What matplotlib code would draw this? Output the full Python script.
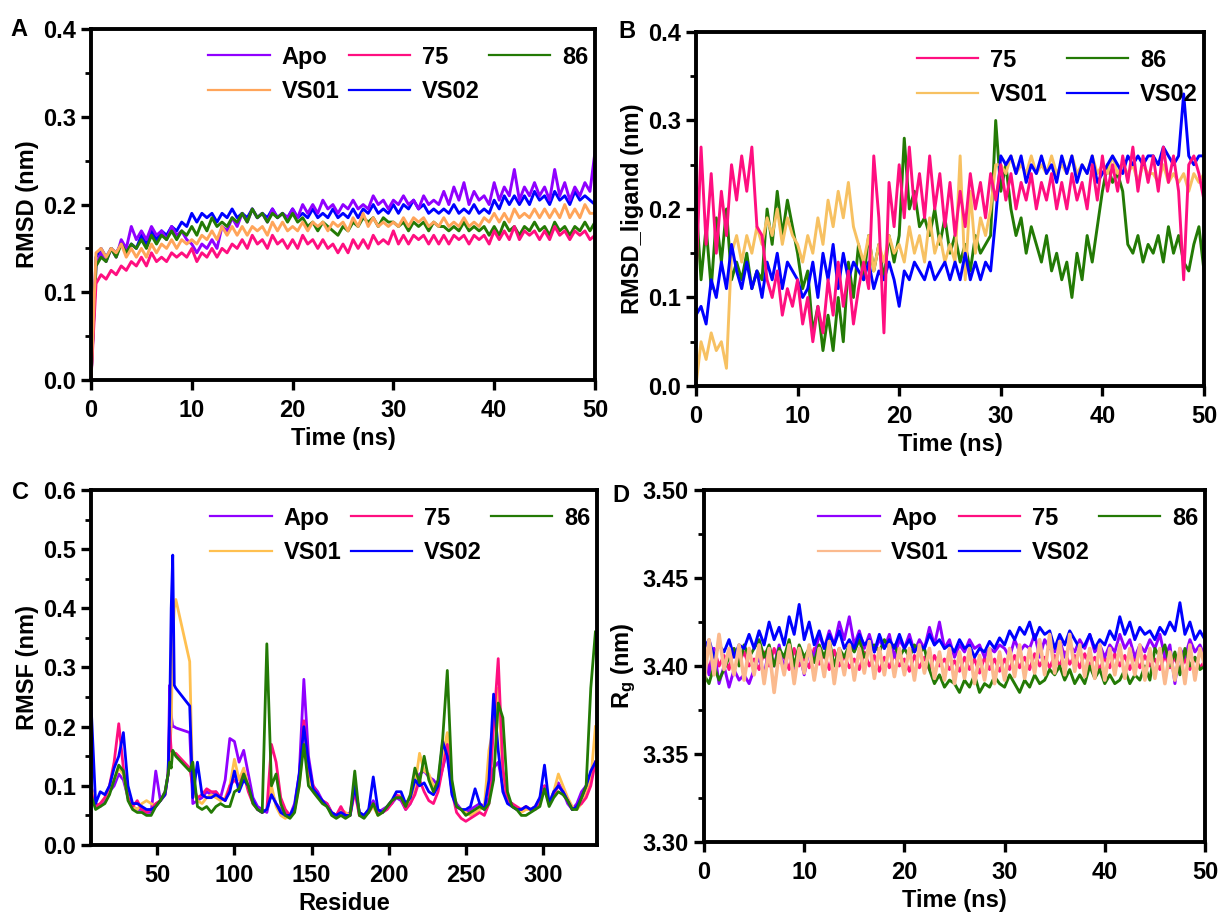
import numpy as np
import matplotlib
matplotlib.use("Agg")
import matplotlib.pyplot as plt
from matplotlib.ticker import MultipleLocator, FormatStrFormatter

plt.rcParams['font.family'] = ['Liberation Sans', 'DejaVu Sans']
plt.rcParams['font.weight'] = 'bold'
plt.rcParams['axes.labelweight'] = 'bold'
plt.rcParams['mathtext.fontset'] = 'custom'
plt.rcParams['mathtext.rm'] = 'Liberation Sans:bold'
plt.rcParams['mathtext.default'] = 'rm'

# kolory serii
c_apo = "#9000FF"
c_75 = "#FF0F80"
c_86 = "#237A05"
c_vs02 = "#0000FF"

# ---------------- A: RMSD bialka (co 0.5 ns) ----------------
rmsd_apo = [0.0, 0.13, 0.145, 0.135, 0.15, 0.14, 0.16, 0.15, 0.175, 0.16,
            0.17, 0.16, 0.175, 0.165, 0.17, 0.16, 0.175, 0.165, 0.17, 0.16,
            0.155, 0.145, 0.155, 0.15, 0.16, 0.15, 0.175, 0.17, 0.185, 0.175,
            0.19, 0.18, 0.195, 0.185, 0.19, 0.18, 0.195, 0.185, 0.19, 0.185,
            0.195, 0.185, 0.2, 0.19, 0.2, 0.19, 0.205, 0.195, 0.2, 0.19,
            0.2, 0.195, 0.205, 0.195, 0.2, 0.195, 0.21, 0.2, 0.205, 0.195,
            0.205, 0.2, 0.21, 0.2, 0.205, 0.195, 0.21, 0.2, 0.205, 0.2,
            0.215, 0.2, 0.22, 0.205, 0.225, 0.2, 0.215, 0.205, 0.21, 0.2,
            0.225, 0.205, 0.22, 0.21, 0.24, 0.205, 0.22, 0.21, 0.225, 0.21,
            0.22, 0.205, 0.24, 0.21, 0.225, 0.205, 0.22, 0.21, 0.225, 0.215,
            0.26]
rmsd_75 = [0.0, 0.11, 0.12, 0.115, 0.125, 0.12, 0.13, 0.125, 0.135, 0.13,
           0.14, 0.13, 0.145, 0.135, 0.14, 0.135, 0.145, 0.14, 0.145, 0.14,
           0.15, 0.135, 0.145, 0.14, 0.15, 0.14, 0.15, 0.145, 0.155, 0.15,
           0.16, 0.15, 0.165, 0.155, 0.16, 0.15, 0.165, 0.155, 0.16, 0.15,
           0.16, 0.15, 0.165, 0.155, 0.16, 0.15, 0.16, 0.15, 0.155, 0.145,
           0.155, 0.145, 0.16, 0.15, 0.16, 0.15, 0.165, 0.155, 0.16, 0.155,
           0.17, 0.155, 0.165, 0.155, 0.165, 0.16, 0.165, 0.155, 0.165, 0.155,
           0.165, 0.155, 0.165, 0.16, 0.165, 0.155, 0.165, 0.16, 0.165, 0.155,
           0.17, 0.16, 0.17, 0.16, 0.175, 0.16, 0.17, 0.165, 0.17, 0.16,
           0.17, 0.16, 0.175, 0.165, 0.17, 0.16, 0.17, 0.165, 0.17, 0.16,
           0.165]
rmsd_86 = [0.0, 0.13, 0.14, 0.135, 0.15, 0.14, 0.155, 0.145, 0.155, 0.15,
           0.16, 0.15, 0.165, 0.155, 0.165, 0.16, 0.17, 0.16, 0.17, 0.165,
           0.175, 0.165, 0.18, 0.17, 0.185, 0.175, 0.18, 0.175, 0.185, 0.18,
           0.19, 0.18, 0.195, 0.185, 0.19, 0.18, 0.19, 0.185, 0.19, 0.18,
           0.19, 0.18, 0.185, 0.175, 0.18, 0.17, 0.18, 0.175, 0.17, 0.165,
           0.175, 0.17, 0.18, 0.175, 0.185, 0.18, 0.185, 0.175, 0.185, 0.18,
           0.18, 0.175, 0.18, 0.17, 0.18, 0.175, 0.18, 0.17, 0.18, 0.175,
           0.175, 0.17, 0.175, 0.17, 0.18, 0.17, 0.175, 0.17, 0.175, 0.165,
           0.175, 0.165, 0.18, 0.17, 0.175, 0.165, 0.175, 0.17, 0.18, 0.17,
           0.175, 0.165, 0.18, 0.17, 0.175, 0.165, 0.175, 0.17, 0.18, 0.17,
           0.18]
rmsd_vs01 = [0.0, 0.145, 0.15, 0.14, 0.15, 0.145, 0.155, 0.14, 0.15, 0.14,
             0.15, 0.14, 0.155, 0.145, 0.155, 0.15, 0.16, 0.15, 0.16, 0.155,
             0.16, 0.155, 0.165, 0.16, 0.17, 0.16, 0.175, 0.165, 0.175, 0.165,
             0.175, 0.165, 0.175, 0.17, 0.175, 0.165, 0.18, 0.17, 0.18, 0.17,
             0.175, 0.17, 0.18, 0.17, 0.18, 0.175, 0.18, 0.17, 0.18, 0.175,
             0.18, 0.17, 0.185, 0.175, 0.19, 0.175, 0.185, 0.175, 0.18, 0.175,
             0.18, 0.175, 0.185, 0.175, 0.185, 0.18, 0.185, 0.175, 0.18, 0.175,
             0.185, 0.175, 0.18, 0.175, 0.185, 0.175, 0.18, 0.175, 0.185, 0.18,
             0.19, 0.18, 0.19, 0.18, 0.195, 0.185, 0.19, 0.185, 0.195, 0.185,
             0.195, 0.185, 0.195, 0.185, 0.2, 0.185, 0.195, 0.185, 0.2, 0.19,
             0.19]
rmsd_vs02 = [0.0, 0.14, 0.15, 0.14, 0.15, 0.145, 0.155, 0.145, 0.155, 0.15,
             0.165, 0.155, 0.17, 0.16, 0.17, 0.165, 0.175, 0.17, 0.18, 0.175,
             0.19, 0.18, 0.19, 0.185, 0.19, 0.18, 0.19, 0.185, 0.195, 0.185,
             0.19, 0.185, 0.195, 0.185, 0.19, 0.185, 0.195, 0.185, 0.19, 0.185,
             0.195, 0.185, 0.19, 0.185, 0.195, 0.185, 0.19, 0.185, 0.195, 0.185,
             0.19, 0.185, 0.195, 0.185, 0.195, 0.19, 0.2, 0.19, 0.195, 0.19,
             0.2, 0.19, 0.2, 0.195, 0.205, 0.195, 0.2, 0.19, 0.195, 0.19,
             0.195, 0.19, 0.2, 0.19, 0.195, 0.19, 0.2, 0.19, 0.195, 0.19,
             0.205, 0.195, 0.21, 0.2, 0.21, 0.2, 0.21, 0.2, 0.215, 0.205,
             0.21, 0.2, 0.215, 0.205, 0.21, 0.2, 0.215, 0.205, 0.21, 0.205,
             0.2]

# ---------------- B: RMSD liganda ----------------
lig_75 = [0.12, 0.27, 0.16, 0.24, 0.15, 0.22, 0.17, 0.25, 0.21, 0.26,
          0.22, 0.27, 0.18, 0.17, 0.12, 0.10, 0.13, 0.08, 0.11, 0.09,
          0.12, 0.07, 0.10, 0.05, 0.09, 0.06, 0.12, 0.08, 0.14, 0.09,
          0.13, 0.07, 0.11, 0.14, 0.11, 0.26, 0.19, 0.06, 0.23, 0.18,
          0.25, 0.19, 0.27, 0.2, 0.24, 0.19, 0.26, 0.2, 0.24, 0.18,
          0.23, 0.17, 0.22, 0.18, 0.24, 0.2, 0.23, 0.19, 0.24, 0.21,
          0.25, 0.21, 0.24, 0.2, 0.23, 0.21, 0.24, 0.2, 0.23, 0.21,
          0.24, 0.2, 0.23, 0.2, 0.24, 0.21, 0.23, 0.2, 0.25, 0.21,
          0.26, 0.22, 0.25, 0.22, 0.26, 0.23, 0.27, 0.22, 0.26, 0.23,
          0.26, 0.22, 0.27, 0.23, 0.26, 0.22, 0.12, 0.25, 0.26, 0.24,
          0.21]
lig_86 = [0.21, 0.12, 0.18, 0.11, 0.19, 0.14, 0.20, 0.12, 0.14, 0.12,
          0.15, 0.11, 0.13, 0.12, 0.2, 0.16, 0.22, 0.17, 0.21, 0.18,
          0.15, 0.11, 0.13, 0.06, 0.09, 0.04, 0.08, 0.04, 0.1, 0.05,
          0.14, 0.1, 0.16, 0.12, 0.17, 0.13, 0.16, 0.12, 0.17, 0.14,
          0.17, 0.28, 0.2, 0.22, 0.18, 0.19, 0.17, 0.2, 0.16, 0.19,
          0.15, 0.17, 0.14, 0.16, 0.13, 0.17, 0.15, 0.16, 0.17, 0.3,
          0.22, 0.25, 0.2, 0.17, 0.19, 0.15, 0.18, 0.16, 0.14, 0.17,
          0.13, 0.15, 0.12, 0.14, 0.1, 0.15, 0.12, 0.17, 0.14, 0.18,
          0.22, 0.25, 0.23, 0.24, 0.22, 0.16, 0.15, 0.17, 0.14, 0.16,
          0.15, 0.17, 0.14, 0.18, 0.15, 0.17, 0.14, 0.13, 0.16, 0.18,
          0.13]
lig_vs01 = [0.0, 0.05, 0.03, 0.06, 0.04, 0.05, 0.02, 0.15, 0.17, 0.14,
            0.17, 0.15, 0.18, 0.16, 0.19, 0.17, 0.2, 0.16, 0.19, 0.17,
            0.16, 0.14, 0.17, 0.15, 0.19, 0.16, 0.21, 0.18, 0.22, 0.19,
            0.23, 0.18, 0.16, 0.14, 0.17, 0.13, 0.16, 0.14, 0.17, 0.15,
            0.16, 0.14, 0.18, 0.15, 0.17, 0.14, 0.19, 0.15, 0.17, 0.14,
            0.16, 0.14, 0.26, 0.12, 0.22, 0.15, 0.19, 0.17, 0.2, 0.25,
            0.25, 0.24, 0.26, 0.24, 0.25, 0.24, 0.26, 0.24, 0.25, 0.24,
            0.26, 0.24, 0.25, 0.24, 0.26, 0.24, 0.25, 0.24, 0.26, 0.24,
            0.25, 0.24, 0.26, 0.24, 0.25, 0.24, 0.25, 0.23, 0.25, 0.24,
            0.24, 0.23, 0.25, 0.23, 0.24, 0.23, 0.24, 0.22, 0.24, 0.23,
            0.24]
lig_vs02 = [0.08, 0.09, 0.07, 0.12, 0.1, 0.14, 0.11, 0.16, 0.13, 0.11,
            0.14, 0.11, 0.13, 0.1, 0.14, 0.12, 0.15, 0.11, 0.14, 0.13,
            0.12, 0.1, 0.11, 0.14, 0.1, 0.15, 0.12, 0.16, 0.11, 0.15,
            0.12, 0.14, 0.13, 0.12, 0.14, 0.11, 0.13, 0.12, 0.14, 0.12,
            0.09, 0.13, 0.12, 0.14, 0.13, 0.12, 0.14, 0.12, 0.13, 0.14,
            0.12, 0.14, 0.12, 0.15, 0.12, 0.14, 0.12, 0.14, 0.13, 0.19,
            0.26, 0.25, 0.26, 0.24, 0.26, 0.23, 0.25, 0.24, 0.26, 0.24,
            0.25, 0.23, 0.26, 0.24, 0.26, 0.23, 0.25, 0.24, 0.26, 0.23,
            0.24, 0.25, 0.26, 0.25, 0.24, 0.26, 0.25, 0.26, 0.25, 0.26,
            0.26, 0.25, 0.27, 0.26, 0.25, 0.26, 0.33, 0.26, 0.25, 0.26,
            0.26]

# ---------------- C: RMSF ----------------
residues = (list(range(7, 56, 3)) + [57, 58, 59, 60, 61, 62, 71]
            + list(range(73, 335, 3)))
rmsf_apo = [0.10, 0.07, 0.065, 0.075, 0.09, 0.10, 0.12, 0.11, 0.08, 0.065, 0.06, 0.06, 0.055, 0.055, 0.125, 0.075, 0.09,
            0.12, 0.27, 0.22, 0.20, 0.20, 0.198, 0.19,
            0.07, 0.075, 0.08, 0.09, 0.085, 0.09, 0.08, 0.11, 0.18, 0.175, 0.14,
            0.16, 0.12, 0.08, 0.065, 0.06, 0.055, 0.09, 0.07, 0.06, 0.055, 0.05,
            0.07, 0.12, 0.28, 0.15, 0.10, 0.09, 0.075, 0.07, 0.055, 0.05, 0.055,
            0.05, 0.055, 0.10, 0.055, 0.05, 0.06, 0.075, 0.055, 0.06, 0.065, 0.07,
            0.08, 0.075, 0.06, 0.07, 0.09, 0.12, 0.125, 0.115, 0.11, 0.10, 0.13,
            0.16, 0.09, 0.07, 0.06, 0.055, 0.06, 0.065, 0.07, 0.065, 0.08, 0.13,
            0.14, 0.10, 0.075, 0.07, 0.06, 0.06, 0.065, 0.06, 0.065, 0.08, 0.10,
            0.07, 0.09, 0.105, 0.09, 0.07, 0.06, 0.07, 0.09, 0.10, 0.12, 0.14]
rmsf_75 = [0.09, 0.065, 0.07, 0.08, 0.10, 0.14, 0.205, 0.13, 0.08, 0.065, 0.075, 0.06, 0.055, 0.06, 0.07, 0.075, 0.085,
           0.12, 0.20, 0.16, 0.155, 0.155, 0.155, 0.13,
           0.10, 0.08, 0.085, 0.095, 0.09, 0.09, 0.08, 0.075, 0.10, 0.11, 0.10,
           0.12, 0.09, 0.07, 0.06, 0.055, 0.06, 0.17, 0.14, 0.08, 0.06, 0.05,
           0.06, 0.11, 0.21, 0.13, 0.10, 0.085, 0.075, 0.07, 0.055, 0.05, 0.065,
           0.05, 0.05, 0.09, 0.05, 0.05, 0.055, 0.07, 0.055, 0.055, 0.06, 0.07,
           0.085, 0.08, 0.06, 0.07, 0.085, 0.11, 0.09, 0.075, 0.07, 0.09, 0.13,
           0.17, 0.09, 0.055, 0.045, 0.04, 0.045, 0.05, 0.055, 0.05, 0.07, 0.20,
           0.315, 0.13, 0.075, 0.07, 0.065, 0.06, 0.065, 0.06, 0.06, 0.07, 0.10,
           0.07, 0.085, 0.10, 0.09, 0.075, 0.06, 0.065, 0.07, 0.08, 0.10, 0.14]
rmsf_86 = [0.085, 0.06, 0.065, 0.07, 0.085, 0.11, 0.135, 0.125, 0.075, 0.06, 0.055, 0.055, 0.05, 0.05, 0.065, 0.075, 0.09,
           0.12, 0.14, 0.13, 0.16, 0.155, 0.15, 0.125,
           0.14, 0.065, 0.06, 0.065, 0.055, 0.065, 0.07, 0.065, 0.065, 0.09, 0.095,
           0.12, 0.10, 0.07, 0.06, 0.055, 0.34, 0.10, 0.12, 0.07, 0.05, 0.045,
           0.055, 0.10, 0.17, 0.10, 0.09, 0.08, 0.07, 0.065, 0.05, 0.045, 0.05,
           0.045, 0.05, 0.125, 0.05, 0.045, 0.055, 0.07, 0.05, 0.055, 0.065, 0.075,
           0.08, 0.08, 0.065, 0.085, 0.13, 0.105, 0.15, 0.11, 0.09, 0.11, 0.18,
           0.295, 0.11, 0.065, 0.06, 0.05, 0.055, 0.06, 0.065, 0.06, 0.07, 0.11,
           0.24, 0.215, 0.09, 0.065, 0.06, 0.05, 0.05, 0.055, 0.06, 0.065, 0.095,
           0.065, 0.08, 0.09, 0.085, 0.075, 0.06, 0.06, 0.08, 0.10, 0.265, 0.36]
rmsf_vs01 = [0.10, 0.065, 0.07, 0.08, 0.095, 0.11, 0.13, 0.12, 0.08, 0.065, 0.06, 0.07, 0.075, 0.07, 0.065, 0.075, 0.085,
             0.12, 0.16, 0.20, 0.35, 0.40, 0.415, 0.31,
             0.09, 0.075, 0.07, 0.08, 0.085, 0.08, 0.075, 0.08, 0.10, 0.145, 0.11,
             0.13, 0.10, 0.07, 0.06, 0.055, 0.06, 0.10, 0.065, 0.05, 0.045, 0.05,
             0.06, 0.10, 0.18, 0.12, 0.09, 0.08, 0.075, 0.065, 0.055, 0.05, 0.06,
             0.055, 0.05, 0.095, 0.05, 0.05, 0.055, 0.065, 0.05, 0.055, 0.065, 0.075,
             0.08, 0.085, 0.065, 0.075, 0.10, 0.155, 0.125, 0.12, 0.10, 0.10, 0.15,
             0.19, 0.10, 0.065, 0.06, 0.055, 0.05, 0.055, 0.06, 0.065, 0.16, 0.20,
             0.265, 0.12, 0.08, 0.065, 0.06, 0.055, 0.06, 0.06, 0.065, 0.075, 0.095,
             0.07, 0.09, 0.12, 0.10, 0.08, 0.065, 0.06, 0.07, 0.09, 0.11, 0.20]
rmsf_vs02 = [0.24, 0.07, 0.09, 0.085, 0.10, 0.13, 0.15, 0.19, 0.10, 0.07, 0.07, 0.065, 0.06, 0.06, 0.065, 0.075, 0.085,
             0.12, 0.22, 0.40, 0.49, 0.27, 0.265, 0.235,
             0.08, 0.14, 0.085, 0.08, 0.08, 0.085, 0.08, 0.075, 0.09, 0.125, 0.09,
             0.11, 0.10, 0.075, 0.06, 0.055, 0.06, 0.085, 0.07, 0.055, 0.05, 0.05,
             0.065, 0.12, 0.20, 0.14, 0.095, 0.085, 0.075, 0.065, 0.055, 0.05, 0.055,
             0.05, 0.05, 0.10, 0.055, 0.05, 0.06, 0.115, 0.06, 0.055, 0.065, 0.075,
             0.09, 0.09, 0.07, 0.08, 0.11, 0.10, 0.105, 0.09, 0.085, 0.10, 0.175,
             0.15, 0.085, 0.065, 0.06, 0.06, 0.065, 0.095, 0.07, 0.06, 0.11, 0.255,
             0.16, 0.09, 0.07, 0.065, 0.06, 0.06, 0.065, 0.06, 0.065, 0.08, 0.135,
             0.07, 0.09, 0.10, 0.09, 0.075, 0.06, 0.065, 0.08, 0.10, 0.125, 0.14]

# ---------------- D: promien bezwladnosci ----------------
rg_apo = [3.41, 3.395, 3.41, 3.39, 3.40, 3.388, 3.398, 3.392, 3.395, 3.39,
          3.398, 3.405, 3.395, 3.41, 3.40, 3.412, 3.398, 3.41, 3.395, 3.408,
          3.395, 3.41, 3.405, 3.418, 3.41, 3.42, 3.412, 3.425, 3.415, 3.428,
          3.412, 3.42, 3.41, 3.418, 3.408, 3.415, 3.41, 3.418, 3.405, 3.415,
          3.41, 3.418, 3.408, 3.415, 3.41, 3.422, 3.412, 3.425, 3.41, 3.415,
          3.405, 3.412, 3.408, 3.415, 3.41, 3.412, 3.405, 3.41, 3.408, 3.412,
          3.41, 3.405, 3.415, 3.408, 3.412, 3.41, 3.418, 3.405, 3.415, 3.41,
          3.408, 3.415, 3.405, 3.412, 3.408, 3.415, 3.41, 3.418, 3.408, 3.412,
          3.405, 3.412, 3.408, 3.418, 3.41, 3.415, 3.405, 3.412, 3.408, 3.415,
          3.41, 3.418, 3.405, 3.412, 3.39, 3.41, 3.405, 3.415, 3.408, 3.412,
          3.405]
rg_75 = [3.405, 3.398, 3.41, 3.40, 3.406, 3.398, 3.41, 3.402, 3.408, 3.40,
         3.404, 3.398, 3.408, 3.40, 3.41, 3.402, 3.406, 3.398, 3.41, 3.40,
         3.405, 3.399, 3.41, 3.401, 3.407, 3.398, 3.409, 3.40, 3.406, 3.399,
         3.404, 3.398, 3.408, 3.40, 3.406, 3.397, 3.405, 3.399, 3.407, 3.40,
         3.404, 3.397, 3.406, 3.399, 3.405, 3.398, 3.406, 3.40, 3.404, 3.398,
         3.403, 3.397, 3.405, 3.398, 3.404, 3.396, 3.405, 3.398, 3.404, 3.397,
         3.404, 3.398, 3.406, 3.399, 3.405, 3.398, 3.407, 3.40, 3.405, 3.399,
         3.406, 3.40, 3.408, 3.401, 3.406, 3.399, 3.407, 3.40, 3.405, 3.398,
         3.405, 3.399, 3.407, 3.40, 3.406, 3.398, 3.405, 3.399, 3.406, 3.40,
         3.404, 3.398, 3.406, 3.399, 3.405, 3.397, 3.404, 3.398, 3.405, 3.399,
         3.403]
rg_86 = [3.395, 3.39, 3.40, 3.392, 3.398, 3.405, 3.41, 3.40, 3.412, 3.405,
         3.41, 3.415, 3.405, 3.412, 3.40, 3.41, 3.405, 3.415, 3.40, 3.412,
         3.405, 3.41, 3.402, 3.412, 3.405, 3.415, 3.40, 3.41, 3.405, 3.412,
         3.408, 3.415, 3.405, 3.41, 3.412, 3.408, 3.415, 3.41, 3.412, 3.405,
         3.41, 3.405, 3.412, 3.408, 3.41, 3.398, 3.39, 3.395, 3.388, 3.392,
         3.39, 3.385, 3.392, 3.388, 3.395, 3.385, 3.39, 3.388, 3.394, 3.39,
         3.388, 3.395, 3.39, 3.385, 3.392, 3.388, 3.395, 3.39, 3.392, 3.398,
         3.395, 3.40, 3.392, 3.398, 3.39, 3.395, 3.39, 3.40, 3.393, 3.398,
         3.39, 3.395, 3.39, 3.392, 3.398, 3.39, 3.395, 3.392, 3.40, 3.392,
         3.41, 3.405, 3.412, 3.40, 3.408, 3.395, 3.41, 3.40, 3.405, 3.398,
         3.40]
rg_vs01 = [3.39, 3.415, 3.395, 3.418, 3.398, 3.41, 3.395, 3.412, 3.392, 3.41,
           3.395, 3.412, 3.39, 3.41, 3.385, 3.408, 3.395, 3.412, 3.39, 3.41,
           3.396, 3.412, 3.392, 3.41, 3.394, 3.414, 3.39, 3.41, 3.395, 3.412,
           3.392, 3.41, 3.396, 3.414, 3.393, 3.41, 3.395, 3.412, 3.394, 3.41,
           3.395, 3.41, 3.392, 3.412, 3.396, 3.41, 3.393, 3.408, 3.392, 3.41,
           3.39, 3.408, 3.393, 3.41, 3.39, 3.406, 3.392, 3.41, 3.39, 3.408,
           3.392, 3.41, 3.394, 3.412, 3.393, 3.41, 3.396, 3.415, 3.395, 3.418,
           3.396, 3.414, 3.395, 3.418, 3.397, 3.412, 3.394, 3.41, 3.393, 3.412,
           3.392, 3.41, 3.395, 3.412, 3.393, 3.41, 3.395, 3.412, 3.392, 3.41,
           3.393, 3.41, 3.39, 3.408, 3.392, 3.41, 3.39, 3.412, 3.392, 3.41,
           3.40]
rg_vs02 = [3.41, 3.415, 3.405, 3.412, 3.408, 3.415, 3.405, 3.412, 3.41, 3.418,
           3.41, 3.42, 3.412, 3.425, 3.415, 3.422, 3.412, 3.428, 3.418, 3.435,
           3.415, 3.425, 3.412, 3.42, 3.41, 3.418, 3.412, 3.42, 3.41, 3.415,
           3.41, 3.418, 3.412, 3.415, 3.408, 3.418, 3.41, 3.415, 3.41, 3.418,
           3.41, 3.415, 3.408, 3.412, 3.41, 3.418, 3.412, 3.415, 3.41, 3.412,
           3.408, 3.415, 3.41, 3.412, 3.405, 3.41, 3.408, 3.414, 3.41, 3.416,
           3.412, 3.42, 3.415, 3.422, 3.418, 3.425, 3.415, 3.422, 3.418, 3.42,
           3.41, 3.418, 3.412, 3.42, 3.415, 3.41, 3.412, 3.418, 3.41, 3.415,
           3.412, 3.42, 3.415, 3.428, 3.418, 3.425, 3.415, 3.422, 3.418, 3.42,
           3.415, 3.422, 3.418, 3.425, 3.42, 3.436, 3.418, 3.425, 3.415, 3.42,
           3.415]

FS = 17


def czas(y):
    return np.linspace(0, 50, len(y))


def styl(ax, ylim, ymaj, fmt):
    for s in ax.spines.values():
        s.set_linewidth(2.8)
    ax.set_ylim(*ylim)
    ax.yaxis.set_major_locator(MultipleLocator(ymaj))
    ax.yaxis.set_minor_locator(MultipleLocator(ymaj / 2))
    ax.yaxis.set_major_formatter(FormatStrFormatter(fmt))
    ax.tick_params(which='major', direction='out', length=7, width=2.4,
                   labelsize=FS, top=False, right=False)
    ax.tick_params(axis='y', which='major', pad=4)
    ax.tick_params(axis='x', which='major', pad=7)
    ax.tick_params(which='minor', direction='out', length=4, width=2.0,
                   top=False, right=False)
    ax.tick_params(axis='x', which='minor', bottom=False)
    for lab in ax.get_xticklabels() + ax.get_yticklabels():
        lab.set_fontweight('bold')


def legenda(ax, handles, ncol, anchor, cs):
    leg = ax.legend(handles=handles, ncol=ncol, loc='upper right', bbox_to_anchor=anchor,
                    frameon=False, fontsize=FS, handlelength=2.6, handletextpad=0.5,
                    columnspacing=cs, labelspacing=0.5, borderaxespad=0.3)
    for ln in leg.get_lines():
        ln.set_linewidth(1.6)


fig = plt.figure(figsize=(12.18, 9.14), dpi=100)
axA = fig.add_axes([0.0747, 0.5842, 0.4138, 0.3840])
axB = fig.add_axes([0.5714, 0.5777, 0.4171, 0.3873])
axC = fig.add_axes([0.0747, 0.0755, 0.4154, 0.3884])
axD = fig.add_axes([0.5780, 0.0788, 0.4113, 0.3850])

lw = 2.1
# A
hA = {}
hA['VS02'], = axA.plot(czas(rmsd_vs02), rmsd_vs02, color=c_vs02, lw=lw, label='VS02')
hA['Apo'], = axA.plot(czas(rmsd_apo), rmsd_apo, color=c_apo, lw=lw, label='Apo')
hA['86'], = axA.plot(czas(rmsd_86), rmsd_86, color=c_86, lw=lw, label='86')
hA['75'], = axA.plot(czas(rmsd_75), rmsd_75, color=c_75, lw=lw, label='75')
hA['VS01'], = axA.plot(czas(rmsd_vs01), rmsd_vs01, color="#FFA55A", lw=lw, label='VS01')
axA.set_xlim(0, 50)
axA.xaxis.set_major_locator(MultipleLocator(10))
styl(axA, (0, 0.4), 0.1, '%.1f')
axA.set_xlabel('Time (ns)', fontsize=FS, labelpad=3)
axA.set_ylabel('RMSD (nm)', fontsize=FS, labelpad=3)
legenda(axA, [hA['Apo'], hA['VS01'], hA['75'], hA['VS02'], hA['86']], 3, (1.02, 1.0), 0.4)

# B
hB = {}
hB['86'], = axB.plot(czas(lig_86), lig_86, color=c_86, lw=lw, label='86')
hB['VS01'], = axB.plot(czas(lig_vs01), lig_vs01, color="#F7C162", lw=lw, label='VS01')
hB['VS02'], = axB.plot(czas(lig_vs02), lig_vs02, color=c_vs02, lw=lw, label='VS02')
hB['75'], = axB.plot(czas(lig_75), lig_75, color=c_75, lw=lw, label='75')
axB.set_xlim(0, 50)
axB.xaxis.set_major_locator(MultipleLocator(10))
styl(axB, (0, 0.4), 0.1, '%.1f')
axB.set_xlabel('Time (ns)', fontsize=FS, labelpad=3)
axB.set_ylabel('RMSD_ligand (nm)', fontsize=FS, labelpad=3)
legenda(axB, [hB['75'], hB['VS01'], hB['86'], hB['VS02']], 2, (1.02, 1.0), 0.8)

# C
hC = {}
lwc = 2.0
hC['Apo'], = axC.plot(residues, rmsf_apo, color=c_apo, lw=lwc, label='Apo')
hC['VS01'], = axC.plot(residues, rmsf_vs01, color="#FFC050", lw=lwc, label='VS01')
hC['75'], = axC.plot(residues, rmsf_75, color=c_75, lw=lwc, label='75')
hC['VS02'], = axC.plot(residues, rmsf_vs02, color=c_vs02, lw=lwc, label='VS02')
hC['86'], = axC.plot(residues, rmsf_86, color=c_86, lw=lwc, label='86')
axC.set_xlim(7, 335)
axC.xaxis.set_major_locator(MultipleLocator(50))
styl(axC, (0, 0.6), 0.1, '%.1f')
axC.set_xlabel('Residue', fontsize=FS, labelpad=3)
axC.set_ylabel('RMSF (nm)', fontsize=FS, labelpad=3)
legenda(axC, [hC['Apo'], hC['VS01'], hC['75'], hC['VS02'], hC['86']], 3, (1.02, 1.0), 0.4)

# D
hD = {}
hD['75'], = axD.plot(czas(rg_75), rg_75, color=c_75, lw=lw, label='75')
hD['Apo'], = axD.plot(czas(rg_apo), rg_apo, color=c_apo, lw=lw, label='Apo')
hD['86'], = axD.plot(czas(rg_86), rg_86, color=c_86, lw=lw, label='86')
hD['VS02'], = axD.plot(czas(rg_vs02), rg_vs02, color=c_vs02, lw=lw, label='VS02')
hD['VS01'], = axD.plot(czas(rg_vs01), rg_vs01, color="#FBBA8E", lw=2.6, label='VS01')
axD.set_xlim(0, 50)
axD.xaxis.set_major_locator(MultipleLocator(10))
styl(axD, (3.30, 3.50), 0.05, '%.2f')
axD.set_xlabel('Time (ns)', fontsize=FS, labelpad=3)
axD.set_ylabel('R$_{g}$ (nm)', fontsize=FS, labelpad=3)
legenda(axD, [hD['Apo'], hD['VS01'], hD['75'], hD['VS02'], hD['86']], 3, (1.02, 1.0), 0.4)

# litery paneli
for lit, x, y in [('A', 10, 30), ('B', 618, 32), ('C', 12, 493), ('D', 612, 496)]:
    fig.text(x / 1218, 1 - y / 914, lit, fontsize=FS, fontweight='bold',
             ha='left', va='center')

fig.savefig('out.png', dpi=100)
